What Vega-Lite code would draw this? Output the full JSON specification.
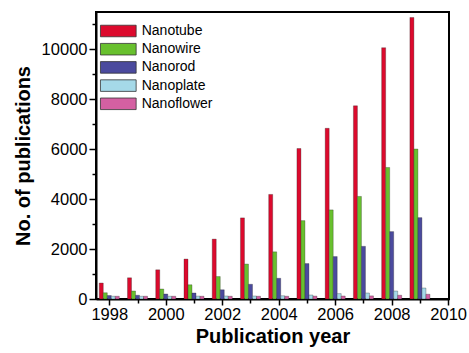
{
  "$schema": "https://vega.github.io/schema/vega-lite/v6.json",
  "width": 353,
  "height": 287,
  "autosize": {"type": "none"},
  "padding": {"left": 96, "top": 12, "right": 20, "bottom": 54},
  "background": "white",
  "config": {
    "font": "Liberation Sans",
    "view": {"stroke": "black", "strokeWidth": 2},
    "axis": {
      "domainColor": "black", "domainWidth": 2,
      "tickColor": "black", "tickWidth": 1.5,
      "labelColor": "black", "labelFontSize": 16.5, "labelFont": "Liberation Sans",
      "titleColor": "black", "titleFontSize": 20, "titleFontWeight": "bold", "titleFont": "Liberation Sans",
      "grid": false
    }
  },
  "data": {
    "values": [
      {"year": 1998, "type": "Nanotube", "count": 640},
      {"year": 1998, "type": "Nanowire", "count": 250},
      {"year": 1998, "type": "Nanorod", "count": 140},
      {"year": 1998, "type": "Nanoplate", "count": 110},
      {"year": 1998, "type": "Nanoflower", "count": 110},
      {"year": 1999, "type": "Nanotube", "count": 850},
      {"year": 1999, "type": "Nanowire", "count": 320},
      {"year": 1999, "type": "Nanorod", "count": 150},
      {"year": 1999, "type": "Nanoplate", "count": 110},
      {"year": 1999, "type": "Nanoflower", "count": 110},
      {"year": 2000, "type": "Nanotube", "count": 1170},
      {"year": 2000, "type": "Nanowire", "count": 400},
      {"year": 2000, "type": "Nanorod", "count": 200},
      {"year": 2000, "type": "Nanoplate", "count": 110},
      {"year": 2000, "type": "Nanoflower", "count": 110},
      {"year": 2001, "type": "Nanotube", "count": 1600},
      {"year": 2001, "type": "Nanowire", "count": 570},
      {"year": 2001, "type": "Nanorod", "count": 240},
      {"year": 2001, "type": "Nanoplate", "count": 115},
      {"year": 2001, "type": "Nanoflower", "count": 110},
      {"year": 2002, "type": "Nanotube", "count": 2400},
      {"year": 2002, "type": "Nanowire", "count": 900},
      {"year": 2002, "type": "Nanorod", "count": 370},
      {"year": 2002, "type": "Nanoplate", "count": 120},
      {"year": 2002, "type": "Nanoflower", "count": 110},
      {"year": 2003, "type": "Nanotube", "count": 3250},
      {"year": 2003, "type": "Nanowire", "count": 1400},
      {"year": 2003, "type": "Nanorod", "count": 590},
      {"year": 2003, "type": "Nanoplate", "count": 120},
      {"year": 2003, "type": "Nanoflower", "count": 110},
      {"year": 2004, "type": "Nanotube", "count": 4190},
      {"year": 2004, "type": "Nanowire", "count": 1890},
      {"year": 2004, "type": "Nanorod", "count": 830},
      {"year": 2004, "type": "Nanoplate", "count": 130},
      {"year": 2004, "type": "Nanoflower", "count": 110},
      {"year": 2005, "type": "Nanotube", "count": 6030},
      {"year": 2005, "type": "Nanowire", "count": 3140},
      {"year": 2005, "type": "Nanorod", "count": 1420},
      {"year": 2005, "type": "Nanoplate", "count": 160},
      {"year": 2005, "type": "Nanoflower", "count": 115},
      {"year": 2006, "type": "Nanotube", "count": 6840},
      {"year": 2006, "type": "Nanowire", "count": 3570},
      {"year": 2006, "type": "Nanorod", "count": 1700},
      {"year": 2006, "type": "Nanoplate", "count": 215},
      {"year": 2006, "type": "Nanoflower", "count": 120},
      {"year": 2007, "type": "Nanotube", "count": 7740},
      {"year": 2007, "type": "Nanowire", "count": 4110},
      {"year": 2007, "type": "Nanorod", "count": 2110},
      {"year": 2007, "type": "Nanoplate", "count": 240},
      {"year": 2007, "type": "Nanoflower", "count": 125},
      {"year": 2008, "type": "Nanotube", "count": 10070},
      {"year": 2008, "type": "Nanowire", "count": 5270},
      {"year": 2008, "type": "Nanorod", "count": 2700},
      {"year": 2008, "type": "Nanoplate", "count": 320},
      {"year": 2008, "type": "Nanoflower", "count": 150},
      {"year": 2009, "type": "Nanotube", "count": 11280},
      {"year": 2009, "type": "Nanowire", "count": 6010},
      {"year": 2009, "type": "Nanorod", "count": 3260},
      {"year": 2009, "type": "Nanoplate", "count": 440},
      {"year": 2009, "type": "Nanoflower", "count": 190}
    ]
  },
  "layer": [
    {
      "mark": {"type": "rule", "opacity": 0},
      "encoding": {
        "x": {
          "field": "year", "type": "quantitative",
          "scale": {"domain": [1997.53, 2010.03], "nice": false, "zero": false},
          "axis": {
            "orient": "bottom",
            "title": "Publication year",
            "values": [1998, 1999, 2000, 2001, 2002, 2003, 2004, 2005, 2006, 2007, 2008, 2009, 2010],
            "format": "d",
            "labelExpr": "datum.value % 2 == 0 ? datum.label : ''",
            "labelFlush": false,
            "labelOverlap": false,
            "labelBound": false,
            "tickSize": {"condition": {"test": "datum.value % 2 == 0", "value": 6}, "value": 4},
            "labelPadding": 1,
            "titlePadding": 4
          }
        }
      }
    },
    {
      "mark": {"type": "bar", "stroke": "#222222", "strokeWidth": 0.5, "strokeOpacity": 0.6},
      "encoding": {
        "x": {
          "field": "year", "type": "ordinal",
          "scale": {
            "domain": [1998, 1999, 2000, 2001, 2002, 2003, 2004, 2005, 2006, 2007, 2008, 2009],
            "paddingInner": 0.29, "paddingOuter": 0.395, "align": 0.146
          },
          "axis": null
        },
        "xOffset": {
          "field": "type", "type": "nominal",
          "sort": ["Nanotube", "Nanowire", "Nanorod", "Nanoplate", "Nanoflower"],
          "scale": {"paddingInner": 0, "paddingOuter": 0}
        },
        "y": {
          "field": "count", "type": "quantitative",
          "scale": {"domain": [0, 11500], "nice": false},
          "axis": {
            "title": "No. of publications",
            "values": [0, 1000, 2000, 3000, 4000, 5000, 6000, 7000, 8000, 9000, 10000, 11000],
            "format": "d",
            "labelExpr": "datum.value % 2000 == 0 ? datum.label : ''",
            "labelFlush": false,
            "tickSize": {"condition": {"test": "datum.value % 2000 == 0", "value": 7}, "value": 4},
            "labelPadding": 2,
            "titlePadding": 8
          }
        },
        "color": {
          "field": "type", "type": "nominal",
          "scale": {
            "domain": ["Nanotube", "Nanowire", "Nanorod", "Nanoplate", "Nanoflower"],
            "range": ["#dc0a2d", "#68c02e", "#4b4a9e", "#a5d9e8", "#d460a2"]
          },
          "legend": {
            "orient": "none", "legendX": 13.3, "legendY": 10,
            "title": null, "padding": 0,
            "symbolType": "M-2.1,-0.68H2.1V0.68H-2.1Z",
            "symbolSize": 289,
            "symbolStrokeColor": "#333333", "symbolStrokeWidth": 0.8,
            "symbolOpacity": 1,
            "labelFontSize": 14, "labelColor": "black", "labelOffset": 14.4,
            "rowPadding": 1.2
          }
        }
      }
    }
  ],
  "resolve": {"scale": {"x": "independent"}}
}
